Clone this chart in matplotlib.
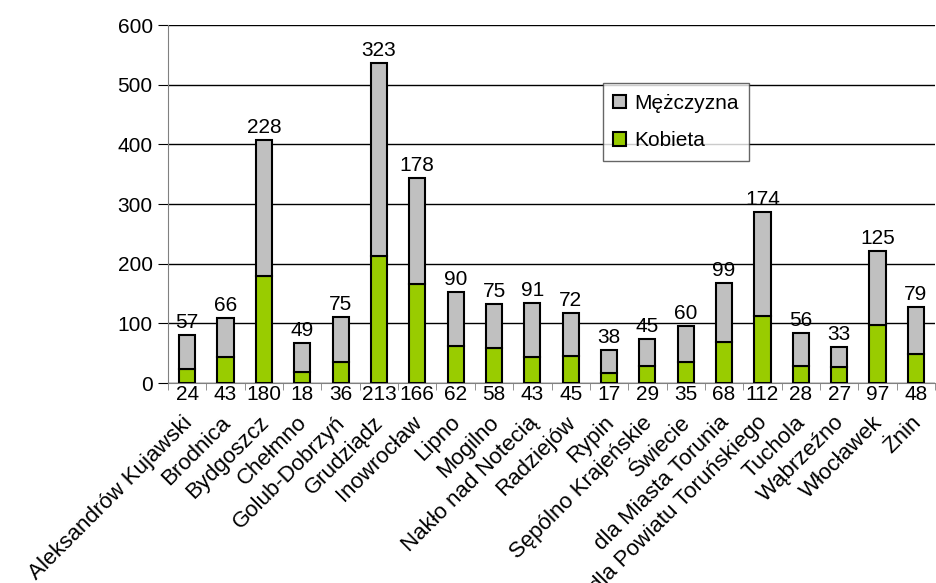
import matplotlib.pyplot as plt
import numpy as np

# Data
powiaty = ["Aleksandrów Kujawski", "Brodnica", "Bydgoszcz", "Chełmno",
           "Golub-Dobrzyń", "Grudziądz", "Inowrocław", "Lipno", "Mogilno",
           "Nakło nad Notecią", "Radziejów", "Rypin", "Sępólno Krajeńskie",
           "Świecie", "dla Miasta Torunia", "dla Powiatu Toruńskiego",
           "Tuchola", "Wąbrzeźno", "Włocławek", "Żnin"]
kobieta = [24, 43, 180, 18, 36, 213, 166, 62, 58, 43, 45, 17, 29, 35, 68,
           112, 28, 27, 97, 48]
mezczyzna = [57, 66, 228, 49, 75, 323, 178, 90, 75, 91, 72, 38, 45, 60, 99,
             174, 56, 33, 125, 79]
y_ticks = [0, 100, 200, 300, 400, 500, 600]

plt.rcParams["font.family"] = ["Liberation Sans", "DejaVu Sans"]
plt.rcParams["font.size"] = 15

fig = plt.figure(figsize=(9.36, 5.83), dpi=100)
ax = fig.add_axes([0.1795, 0.343, 0.8195, 0.614])

x = np.arange(len(powiaty))
width = 0.42
green = "#99CC00"
grey = "#C0C0C0"

# Stacked bars
b1 = ax.bar(x, kobieta, width, color=green, edgecolor="black", linewidth=1.5,
            label="Kobieta", zorder=3)
b2 = ax.bar(x, mezczyzna, width, bottom=kobieta, color=grey, edgecolor="black",
            linewidth=1.5, label="Mężczyzna", zorder=3)

# Value labels: men above bar, women below the axis
for i in range(len(powiaty)):
  ax.text(x[i], kobieta[i] + mezczyzna[i] + 5, str(mezczyzna[i]),
          ha="center", va="bottom", fontsize=15, zorder=4)
  ax.text(x[i], -3, str(kobieta[i]), ha="center", va="top", fontsize=15,
          zorder=4)

ax.set_xlim(-0.5, len(powiaty) - 0.5)
ax.set_ylim(0, 600)
ax.set_yticks(y_ticks)
ax.yaxis.grid(True, color="black", linewidth=1)
ax.set_axisbelow(True)

for side in ["top", "right"]:
  ax.spines[side].set_visible(False)
ax.spines["left"].set_color("#808080")
ax.spines["bottom"].set_color("#808080")

# Category labels, with minor ticks at the boundaries
ax.set_xticks(x)
ax.set_xticklabels(powiaty, rotation=45, ha="right", va="center_baseline",
                   rotation_mode="anchor", fontsize=16)
ax.tick_params(axis="x", length=0, pad=25)
ax.set_xticks(np.arange(-0.5, len(powiaty)), minor=True)
ax.tick_params(axis="x", which="minor", length=5, color="#808080",
               direction="out")
ax.tick_params(axis="y", length=7, color="black", labelsize=15, pad=4)

leg = ax.legend(handles=[b2, b1], loc="upper left",
                bbox_to_anchor=(0.553, 0.867), frameon=True, fancybox=False,
                edgecolor="#404040", handlelength=0.6, handleheight=0.6,
                handletextpad=0.4, borderpad=0.5, labelspacing=0.9,
                fontsize=15)
leg.get_frame().set_linewidth(1)

fig.savefig("out.png", dpi=100)
